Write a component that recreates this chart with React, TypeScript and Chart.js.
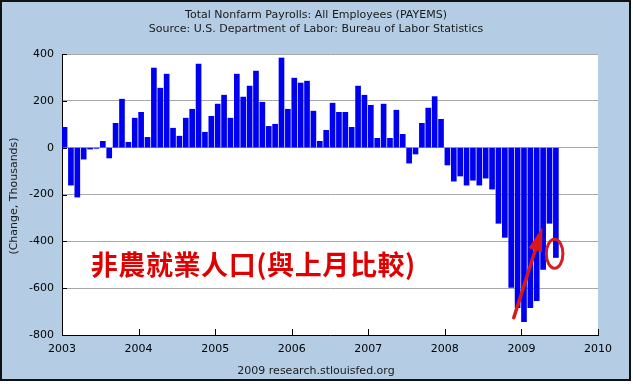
import React, { useEffect, useRef } from 'react';
import { Chart, registerables } from 'chart.js';

Chart.register(...registerables);

// ---- data (monthly change, thousands) ----
const years = ['2003', '2004', '2005', '2006', '2007', '2008', '2009', '2010'];
const changes2003 = [87, -160, -211, -49, -6, -3, 27, -44, 104, 207, 23, 126];
const changes2004 = [151, 44, 340, 254, 314, 83, 49, 126, 164, 357, 66, 134];
const changes2005 = [186, 224, 126, 314, 216, 263, 327, 194, 91, 100, 383, 164];
const changes2006 = [297, 276, 284, 156, 27, 74, 190, 151, 151, 87, 263, 224];
const changes2007 = [181, 40, 186, 40, 160, 57, -66, -27, 104, 169, 218, 121];
const changes2008 = [-74, -143, -121, -160, -139, -160, -130, -177, -323, -383, -597, -683];
const changes2009 = [-743, -683, -653, -520, -323, -469];
const payrollChanges = [
  ...changes2003, ...changes2004, ...changes2005, ...changes2006,
  ...changes2007, ...changes2008, ...changes2009,
];
const yMin = -800;
const yMax = 400;
const yStep = 200;

const titleLines = [
  'Total Nonfarm Payrolls: All Employees (PAYEMS)',
  'Source: U.S. Department of Labor: Bureau of Labor Statistics',
];
const yAxisTitle = '(Change, Thousands)';
const footerText = '2009 research.stlouisfed.org';
const annotationText = '非農就業人口(與上月比較)';

// annotation anchors in data units (month index, thousands)
const textAnchor = { x: 4.5, y: -500 };
const arrowFrom = { x: 70.8, y: -726 };
const arrowTo = { x: 75.3, y: -340 };
const ellipseCenter = { x: 77.2, y: -453 };
const ellipseRadius = { x: 1.3, y: 62 };

const W = 633;
const H = 384;
const BG = '#B4CDE4';
const FONT = '"DejaVu Sans", sans-serif';

const decorPlugin = {
  id: 'decor',
  beforeDraw(chart: any) {
    const { ctx, chartArea } = chart;
    ctx.save();
    ctx.fillStyle = '#ffffff';
    ctx.fillRect(0, 0, W, H);
    ctx.fillStyle = BG;
    ctx.fillRect(0, 0, 631, 381);
    ctx.fillStyle = '#ffffff';
    ctx.fillRect(chartArea.left, chartArea.top, chartArea.right - chartArea.left, chartArea.bottom - chartArea.top);
    ctx.restore();
  },
  afterDraw(chart: any) {
    const { ctx, chartArea, scales } = chart;
    const xs = scales.x;
    const ys = scales.y;
    ctx.save();
    // inner tick marks
    ctx.strokeStyle = '#000';
    ctx.lineWidth = 1;
    ctx.beginPath();
    for (let v = yMin; v <= yMax; v += yStep) {
      const y = Math.round(ys.getPixelForValue(v)) + 0.5;
      ctx.moveTo(chartArea.left, y);
      ctx.lineTo(chartArea.left + 5, y);
    }
    years.forEach((_, k) => {
      const x = Math.round(xs.getPixelForValue(k * 12)) + 0.5;
      ctx.moveTo(x, chartArea.bottom);
      ctx.lineTo(x, chartArea.bottom - 6);
    });
    ctx.stroke();

    // titles
    ctx.fillStyle = '#1a1a1a';
    ctx.font = '11px ' + FONT;
    ctx.textAlign = 'center';
    ctx.textBaseline = 'middle';
    ctx.fillText(titleLines[0], 316, 15);
    ctx.fillText(titleLines[1], 316, 29);
    ctx.fillText(footerText, 316, 371);
    // y axis title
    ctx.save();
    ctx.translate(14, 196);
    ctx.rotate(-Math.PI / 2);
    ctx.fillText(yAxisTitle, 0, 0);
    ctx.restore();

    // red annotation text
    ctx.fillStyle = '#E00000';
    ctx.font = 'bold 27px "Noto Sans CJK TC", sans-serif';
    try { (ctx as any).letterSpacing = '0.6px'; } catch (e) { /* ignore */ }
    ctx.textAlign = 'left';
    ctx.textBaseline = 'middle';
    ctx.fillText(annotationText, xs.getPixelForValue(textAnchor.x), ys.getPixelForValue(textAnchor.y));
    try { (ctx as any).letterSpacing = '0px'; } catch (e) { /* ignore */ }

    // arrow
    const x1 = xs.getPixelForValue(arrowFrom.x);
    const y1 = ys.getPixelForValue(arrowFrom.y);
    const x2 = xs.getPixelForValue(arrowTo.x);
    const y2 = ys.getPixelForValue(arrowTo.y);
    const ang = Math.atan2(y2 - y1, x2 - x1);
    const headLen = 24;
    const headHalf = 7;
    const bx = x2 - headLen * Math.cos(ang);
    const by = y2 - headLen * Math.sin(ang);
    ctx.strokeStyle = '#D8191C';
    ctx.fillStyle = '#D8191C';
    ctx.lineWidth = 3.5;
    ctx.lineCap = 'round';
    ctx.beginPath();
    ctx.moveTo(x1, y1);
    ctx.lineTo(bx, by);
    ctx.stroke();
    ctx.beginPath();
    ctx.moveTo(x2, y2);
    ctx.lineTo(bx + headHalf * Math.sin(ang), by - headHalf * Math.cos(ang));
    ctx.lineTo(bx - headHalf * Math.sin(ang), by + headHalf * Math.cos(ang));
    ctx.closePath();
    ctx.fill();

    // ellipse
    const cx = xs.getPixelForValue(ellipseCenter.x);
    const cy = ys.getPixelForValue(ellipseCenter.y);
    const rx = Math.abs(xs.getPixelForValue(ellipseCenter.x + ellipseRadius.x) - cx);
    const ry = Math.abs(ys.getPixelForValue(ellipseCenter.y + ellipseRadius.y) - cy);
    ctx.lineWidth = 3;
    ctx.strokeStyle = '#D42020';
    ctx.beginPath();
    ctx.ellipse(cx, cy, rx, ry, 0, 0, Math.PI * 2);
    ctx.stroke();

    // outer frame
    ctx.strokeStyle = '#111';
    ctx.lineWidth = 2;
    ctx.strokeRect(1, 1, 629, 379);
    ctx.restore();
  },
};

export default function App() {
  const ref = useRef<HTMLCanvasElement | null>(null);
  useEffect(() => {
    if (!ref.current) return;
    const data = payrollChanges.map((v, i) => ({ x: i + 0.4, y: v }));
    const chart = new Chart(ref.current, {
      type: 'bar',
      data: {
        datasets: [
          {
            data: data as any,
            backgroundColor: '#0000F0',
            borderWidth: 0,
            barThickness: 5,
          },
        ],
      },
      options: {
        responsive: false,
        animation: false,
        devicePixelRatio: 1,
        layout: { padding: { top: 54, right: 35, left: 0, bottom: 0 } },
        plugins: { legend: { display: false }, tooltip: { enabled: false }, title: { display: false } },
        scales: {
          x: {
            type: 'linear',
            min: 0,
            max: 84,
            offset: false,
            grid: { display: false, drawTicks: false },
            border: { display: true, color: '#000', width: 1 },
            ticks: {
              stepSize: 12,
              padding: 8,
              color: '#000',
              font: { family: FONT, size: 11 },
              maxRotation: 0,
              autoSkip: false,
              callback: (v: any) => years[Math.round(Number(v) / 12)] ?? '',
            },
            afterFit: (s: any) => { s.height = 49; },
          },
          y: {
            min: yMin,
            max: yMax,
            grid: { color: '#A8A8A8', lineWidth: 1, drawTicks: false },
            border: { display: true, color: '#000', width: 1 },
            ticks: {
              stepSize: yStep,
              padding: 8,
              color: '#000',
              font: { family: FONT, size: 11 },
            },
            afterFit: (s: any) => { s.width = 62; },
          },
        },
      },
      plugins: [decorPlugin],
    });
    return () => chart.destroy();
  }, []);
  return (
    <div style={{ position: 'fixed', left: 0, top: 0, width: W, height: H }}>
      <canvas ref={ref} width={W} height={H} style={{ display: 'block', width: W, height: H }} />
    </div>
  );
}
